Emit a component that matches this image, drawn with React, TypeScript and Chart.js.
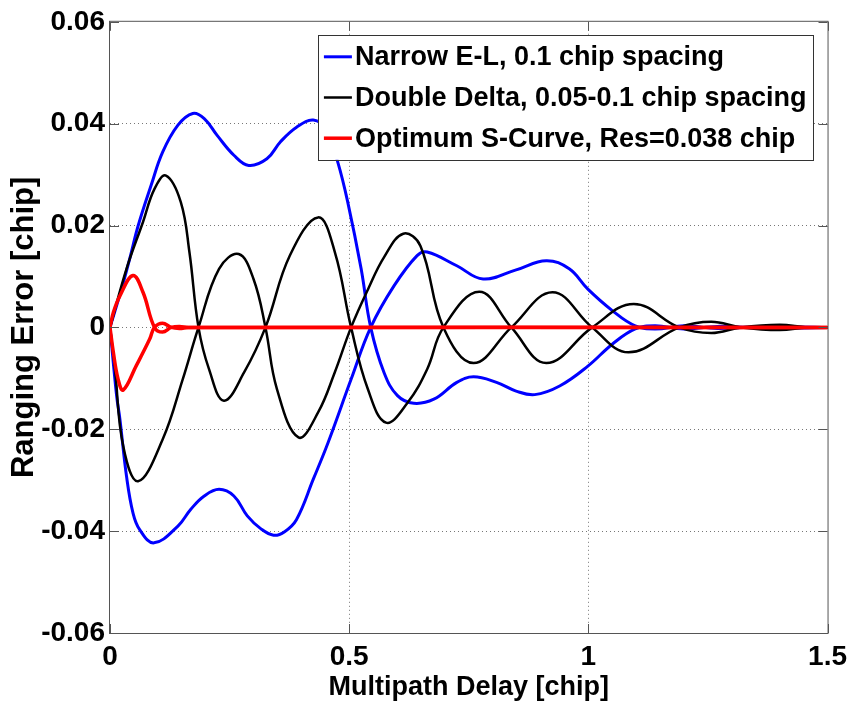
import React, { useEffect, useRef } from 'react';
import { Chart, registerables } from 'chart.js';

Chart.register(...registerables);

// ---------- data ----------
const xTickValues = [0, 0.5, 1, 1.5];
const xTickLabels = ['0', '0.5', '1', '1.5'];
const yTickValues = [-0.06, -0.04, -0.02, 0, 0.02, 0.04, 0.06];
const yTickLabels = ['-0.06', '-0.04', '-0.02', '0', '0.02', '0.04', '0.06'];

const seriesLabels = [
  'Narrow E-L, 0.1 chip spacing',
  'Double Delta, 0.05-0.1 chip spacing',
  'Optimum S-Curve, Res=0.038 chip',
];

// Narrow E-L, branch starting positive
const narrowADelay = [0, 0.024, 0.041, 0.059, 0.086, 0.11, 0.142, 0.173, 0.197, 0.224, 0.259, 0.29, 0.328, 0.356, 0.39, 0.425, 0.452, 0.476, 0.497, 0.525, 0.545, 0.573, 0.601, 0.635, 0.677, 0.725, 0.76, 0.808, 0.849, 0.888, 0.94, 0.999, 1.05, 1.098, 1.14, 1.2, 1.27, 1.35, 1.43, 1.5];
const narrowAError = [0, 0.0075, 0.0134, 0.02, 0.0279, 0.0344, 0.0397, 0.042, 0.041, 0.0377, 0.0338, 0.0318, 0.0331, 0.0364, 0.0393, 0.0407, 0.0388, 0.0325, 0.0246, 0.0115, 0, -0.0089, -0.0134, -0.0149, -0.0141, -0.0108, -0.0097, -0.0108, -0.0125, -0.0132, -0.0115, -0.0076, -0.0033, -0.0003, 0.0003, -0.0003, 0.0002, -0.0001, 0.0001, 0];

// Narrow E-L, branch starting negative
const narrowBDelay = [0, 0.0138, 0.0207, 0.0345, 0.048, 0.062, 0.092, 0.142, 0.169, 0.197, 0.228, 0.259, 0.287, 0.315, 0.342, 0.365, 0.39, 0.425, 0.456, 0.504, 0.545, 0.594, 0.642, 0.663, 0.725, 0.78, 0.849, 0.912, 0.96, 0.999, 1.05, 1.098, 1.14, 1.2, 1.27, 1.35, 1.43, 1.5];
const narrowBError = [0, -0.0134, -0.018, -0.0292, -0.0364, -0.0397, -0.0423, -0.039, -0.0357, -0.0331, -0.0318, -0.0331, -0.037, -0.0395, -0.0408, -0.0401, -0.0377, -0.0298, -0.0226, -0.0102, 0, 0.0082, 0.0141, 0.0148, 0.0121, 0.0095, 0.0113, 0.0131, 0.0115, 0.0075, 0.0033, 0.0003, -0.0003, 0.0003, -0.0002, 0.0001, -0.0001, 0];

// Double Delta, branch starting positive
const deltaADelay = [0, 0.0345, 0.069, 0.093, 0.117, 0.148, 0.166, 0.185, 0.207, 0.238, 0.28, 0.325, 0.376, 0.435, 0.47, 0.504, 0.539, 0.577, 0.622, 0.663, 0.697, 0.772, 0.839, 0.912, 1.008, 1.095, 1.19, 1.257, 1.319, 1.4, 1.457, 1.5];
const deltaAError = [0, 0.0115, 0.0207, 0.0272, 0.0298, 0.0246, 0.0148, 0, -0.0082, -0.0144, -0.0089, 0, 0.0141, 0.0216, 0.0148, 0, -0.0121, -0.0187, -0.0148, -0.0082, 0, 0.007, 0, -0.007, 0, 0.0046, 0, -0.0011, 0, 0.0005, 0, 0];

// Double Delta, branch starting negative
const deltaBDelay = [0, 0.0104, 0.0276, 0.0587, 0.11, 0.152, 0.185, 0.228, 0.269, 0.3, 0.325, 0.349, 0.394, 0.435, 0.47, 0.504, 0.539, 0.573, 0.613, 0.649, 0.697, 0.76, 0.839, 0.925, 1.008, 1.084, 1.19, 1.257, 1.319, 1.4, 1.457, 1.5];
const deltaBError = [0, -0.0082, -0.0233, -0.0302, -0.022, -0.0102, 0, 0.0115, 0.0144, 0.0095, 0, -0.0121, -0.0216, -0.0167, -0.0088, 0, 0.0074, 0.0138, 0.0184, 0.016, 0, -0.007, 0, 0.0069, 0, -0.0049, 0, 0.0011, 0, -0.0005, 0, 0];

// Optimum S-Curve, branch starting positive
const scurveADelay = [0, 0.007, 0.0207, 0.048, 0.069, 0.093, 0.11, 0.128, 0.145, 0.165, 1.5];
const scurveAError = [0, 0.0029, 0.0062, 0.0102, 0.0069, 0, -0.0009, 0, 0.0002, 0, 0];

// Optimum S-Curve, branch starting negative
const scurveBDelay = [0, 0.007, 0.017, 0.0276, 0.055, 0.083, 0.093, 0.11, 0.128, 0.145, 0.165, 1.5];
const scurveBError = [0, -0.0049, -0.0102, -0.0123, -0.0075, -0.0023, 0, 0.0008, 0, -0.0002, 0, 0];

// ---------- helpers ----------
const FONT = "'Liberation Sans', Arial, Helvetica, sans-serif";
const BLUE = '#0000ff';
const BLACK = '#000000';
const RED = '#ff0000';

const toPoints = (xs: number[], ys: number[]) => xs.map((x, i) => ({ x, y: ys[i] }));

const legendStyles = [
  { color: BLUE, width: 3 },
  { color: BLACK, width: 2.5 },
  { color: RED, width: 3.5 },
];

const matlabFrame = {
  id: 'matlabFrame',
  afterDatasetsDraw(chart: any) {
    const { ctx, chartArea, scales } = chart;
    const { left, right, top, bottom } = chartArea;
    ctx.save();
    ctx.strokeStyle = '#555555';
    ctx.lineWidth = 1;
    ctx.setLineDash([]);
    ctx.strokeRect(left - 0.5, top - 0.5, right - left + 1, bottom - top + 1);
    const tl = 9;
    ctx.beginPath();
    xTickValues.forEach((v) => {
      const px = Math.round(scales.x.getPixelForValue(v)) + 0.5;
      ctx.moveTo(px, bottom);
      ctx.lineTo(px, bottom - tl);
      ctx.moveTo(px, top);
      ctx.lineTo(px, top + tl);
    });
    yTickValues.forEach((v) => {
      const py = Math.round(scales.y.getPixelForValue(v)) + 0.5;
      ctx.moveTo(left, py);
      ctx.lineTo(left + tl, py);
      ctx.moveTo(right, py);
      ctx.lineTo(right - tl, py);
    });
    ctx.stroke();
    ctx.restore();
  },
  afterDraw(chart: any) {
    const { ctx, chartArea } = chart;
    ctx.save();
    ctx.font = `bold 27px ${FONT}`;
    const padL = 6, lineLen = 28, gap = 3, padR = 6;
    const textW = Math.max(...seriesLabels.map((s) => ctx.measureText(s).width));
    const boxW = padL + lineLen + gap + textW + padR;
    const boxRight = chartArea.right - 15;
    const boxTop = chartArea.top + 13;
    const rowH = 40.7;
    const boxH = 125;
    const boxLeft = boxRight - boxW;
    ctx.fillStyle = '#ffffff';
    ctx.fillRect(boxLeft, boxTop, boxW, boxH);
    ctx.strokeStyle = '#333333';
    ctx.lineWidth = 1;
    ctx.setLineDash([]);
    ctx.strokeRect(Math.round(boxLeft) + 0.5, Math.round(boxTop) + 0.5, Math.round(boxW), boxH);
    seriesLabels.forEach((label, i) => {
      const cy = boxTop + 22 + i * rowH;
      ctx.beginPath();
      ctx.strokeStyle = legendStyles[i].color;
      ctx.lineWidth = legendStyles[i].width;
      ctx.moveTo(boxLeft + padL, cy);
      ctx.lineTo(boxLeft + padL + lineLen, cy);
      ctx.stroke();
      ctx.fillStyle = '#000000';
      ctx.textAlign = 'left';
      ctx.textBaseline = 'middle';
      ctx.fillText(label, boxLeft + padL + lineLen + gap, cy + 1);
    });
    ctx.restore();
  },
};

const gridColor = (c: any) => {
  const v = c.tick ? c.tick.value : 0;
  const edge =
    Math.abs(v - 1.5) < 1e-9 ||
    (Math.abs(v) < 1e-9 && c.scale.axis === 'x') ||
    Math.abs(Math.abs(v) - 0.06) < 1e-9;
  return edge ? 'rgba(0,0,0,0)' : '#777777';
};

export default function App() {
  const ref = useRef<HTMLCanvasElement | null>(null);

  useEffect(() => {
    if (!ref.current) return;
    const mk = (label: string, xs: number[], ys: number[], color: string, width: number, order: number) => ({
      label,
      data: toPoints(xs, ys),
      borderColor: color,
      backgroundColor: color,
      borderWidth: width,
      pointRadius: 0,
      fill: false,
      order,
      tension: 0.4,
      borderCapStyle: 'round' as const,
      borderJoinStyle: 'round' as const,
    });
    const chart = new Chart(ref.current, {
      type: 'line',
      data: {
        datasets: [
          mk(seriesLabels[2], scurveADelay, scurveAError, RED, 3.5, 0),
          mk(seriesLabels[2], scurveBDelay, scurveBError, RED, 3.5, 0),
          mk(seriesLabels[1], deltaADelay, deltaAError, BLACK, 2.5, 1),
          mk(seriesLabels[1], deltaBDelay, deltaBError, BLACK, 2.5, 1),
          mk(seriesLabels[0], narrowADelay, narrowAError, BLUE, 3, 2),
          mk(seriesLabels[0], narrowBDelay, narrowBError, BLUE, 3, 2),
        ],
      },
      options: {
        responsive: false,
        animation: false,
        events: [],
        layout: { padding: { left: 0, right: 20, top: 20, bottom: 0 } },
        plugins: { legend: { display: false }, tooltip: { enabled: false } },
        scales: {
          x: {
            type: 'linear',
            min: 0,
            max: 1.5,
            afterBuildTicks: (s: any) => {
              s.ticks = xTickValues.map((v) => ({ value: v }));
            },
            afterFit: (s: any) => {
              s.height = 69;
            },
            ticks: {
              padding: 7,
              color: '#000',
              maxRotation: 0,
              autoSkip: false,
              font: { family: FONT, size: 28, weight: 'bold' },
              callback: (_v: any, i: number) => xTickLabels[i],
            },
            grid: { drawTicks: false, color: gridColor, lineWidth: 1 },
            border: { display: false, dash: [1, 3] },
            title: {
              display: true,
              text: 'Multipath Delay [chip]',
              color: '#000',
              font: { family: FONT, size: 27, weight: 'bold' },
              padding: { top: 0, bottom: -2 },
            },
          },
          y: {
            type: 'linear',
            min: -0.06,
            max: 0.06,
            afterBuildTicks: (s: any) => {
              s.ticks = yTickValues.map((v) => ({ value: v }));
            },
            afterFit: (s: any) => {
              s.width = 110;
            },
            ticks: {
              padding: 5,
              color: '#000',
              autoSkip: false,
              font: { family: FONT, size: 28, weight: 'bold' },
              callback: (_v: any, i: number) => yTickLabels[i],
            },
            grid: { drawTicks: false, color: gridColor, lineWidth: 1 },
            border: { display: false, dash: [1, 3] },
            title: {
              display: true,
              text: 'Ranging Error [chip]',
              color: '#000',
              font: { family: FONT, size: 31, weight: 'bold' },
              padding: { top: 6, bottom: 0 },
            },
          },
        },
      } as any,
      plugins: [matlabFrame],
    });
    return () => chart.destroy();
  }, []);

  return (
    <div style={{ position: 'fixed', left: 0, top: 0, width: 854, height: 702, background: '#fff' }}>
      <canvas ref={ref} width={854} height={702} style={{ display: 'block' }} />
    </div>
  );
}
